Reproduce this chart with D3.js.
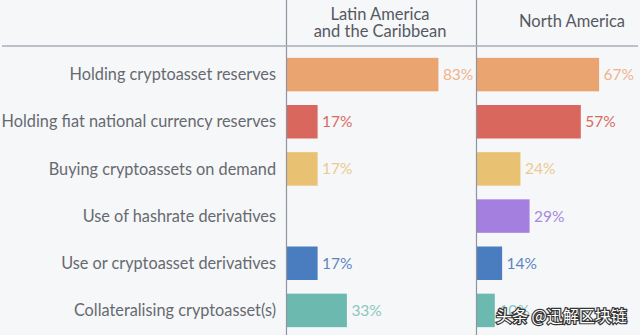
<!DOCTYPE html>
<html>
<head>
<meta charset="utf-8">
<script src="https://cdn.jsdelivr.net/npm/d3@7"></script>
<style>
  body { margin: 0; background: #f6f7f9; }
  svg { display: block; font-family: Lato, "Open Sans", sans-serif; }
</style>
</head>
<body>
<svg id="chart" width="640" height="335"></svg>
<script>
var categories = [
  "Holding cryptoasset reserves",
  "Holding fiat national currency reserves",
  "Buying cryptoassets on demand",
  "Use of hashrate derivatives",
  "Use or cryptoasset derivatives",
  "Collateralising cryptoasset(s)"
];
var regions = [["Latin America", "and the Caribbean"], ["North America"]];
var latamValues = [83, 17, 17, null, 17, 33];
var northValues = [67, 57, 24, 29, 14, 10];
var barColors = ["#e9a46f", "#d9675e", "#e8c172", "#a57fe0", "#4a7dbf", "#6cb9af"];
var labelColors = ["#efb48b", "#d66b61", "#ecca8e", "#a688df", "#5b86c1", "#8cc6bd"];

var svg = d3.select('#chart');
var W = 640, H = 335;

svg.append('rect').attr('width', W).attr('height', H).style('fill', '#f6f7f9');

var y = d3.scaleBand().domain(categories).range([51, 334]).paddingInner(0.29).paddingOuter(0.145);
var x = d3.scaleLinear().domain([0, 100]).range([0, 183]);
var panelX = [286.5, 476.5];

// category labels
svg.append('g').selectAll('text')
  .data(categories).enter().append('text')
  .attr('x', 276)
  .attr('y', function(d){ return y(d) + y.bandwidth() / 2; })
  .attr('dy', '0.35em')
  .attr('text-anchor', 'end')
  .style('font-size', '16.3px')
  .style('fill', '#666a70')
  .text(function(d){ return d; });

[latamValues, northValues].forEach(function(vals, p){
  var g = svg.append('g').attr('transform', 'translate(' + panelX[p] + ',0)');
  var rows = categories.map(function(c, i){ return {cat: c, v: vals[i], i: i}; })
    .filter(function(d){ return d.v != null; });

  g.selectAll('rect.bar').data(rows).enter().append('rect')
    .attr('class', 'bar')
    .attr('x', 0)
    .attr('y', function(d){ return y(d.cat); })
    .attr('width', function(d){ return x(d.v); })
    .attr('height', y.bandwidth())
    .style('fill', function(d){ return barColors[d.i]; });

  g.selectAll('text.val').data(rows).enter().append('text')
    .attr('class', 'val')
    .attr('x', function(d){ return x(d.v) + 4.5; })
    .attr('y', function(d){ return y(d.cat) + y.bandwidth() / 2; })
    .attr('dy', '0.36em')
    .style('font-size', '15.5px')
    .style('fill', function(d){ return labelColors[d.i]; })
    .text(function(d){ return d.v + '%'; });

  // header
  var head = regions[p];
  var cx = p === 0 ? 380 : 572;
  var hy = head.length > 1 ? 14 : 21;
  g.append('g').selectAll('text').data(head).enter().append('text')
    .attr('x', cx - panelX[p])
    .attr('y', function(d, i){ return hy + i * 17.5; })
    .attr('dy', '0.35em')
    .attr('text-anchor', 'middle')
    .style('font-size', '16.5px')
    .style('fill', '#55595f')
    .text(function(d){ return d; });

  g.append('line')
    .attr('x1', 0).attr('x2', 0).attr('y1', 0).attr('y2', H)
    .style('stroke', '#8f959e').style('stroke-width', 1.2);
});

svg.append('line')
  .attr('x1', 2).attr('x2', 638).attr('y1', 46).attr('y2', 46)
  .style('stroke', '#a9afb8').style('stroke-width', 1.5);

// watermark
svg.append('text')
  .attr('x', 496).attr('y', 316)
  .attr('dy', '0.35em')
  .style('font-family', '"Noto Sans CJK SC", sans-serif')
  .style('font-size', '16px')
  .style('fill', '#ffffff')
  .style('stroke', '#333')
  .style('stroke-width', 2.4)
  .style('paint-order', 'stroke')
  .text('头条 @迅解区块链');
</script>
</body>
</html>
